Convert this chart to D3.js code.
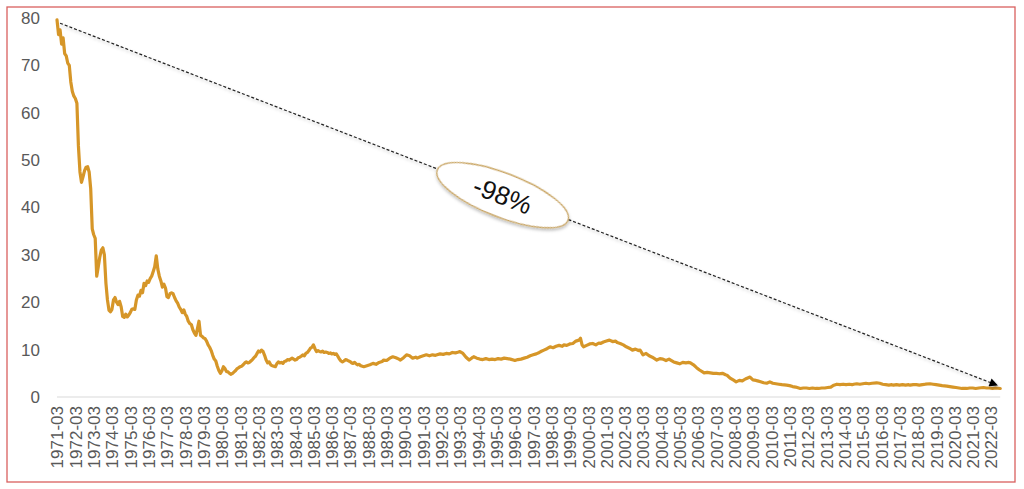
<!DOCTYPE html>
<html><head><meta charset="utf-8">
<script src="https://cdn.jsdelivr.net/npm/d3@7"></script>
<style>body{margin:0;background:#fff}</style>
</head><body><svg id="c" width="1024" height="489"></svg>
<script>
const dates = [
"1971-03","1971-04","1971-05","1971-06","1971-07","1971-08","1971-09","1971-10","1971-11","1971-12",
"1972-01","1972-02","1972-03","1972-04","1972-05","1972-06","1972-07","1972-08","1972-09","1972-10","1972-11","1972-12",
"1973-01","1973-02","1973-03","1973-04","1973-05","1973-06","1973-07","1973-08","1973-09","1973-10","1973-11","1973-12",
"1974-01","1974-02","1974-03","1974-04","1974-05","1974-06","1974-07","1974-08","1974-09","1974-10","1974-11","1974-12",
"1975-01","1975-02","1975-03","1975-04","1975-05","1975-06","1975-07","1975-08","1975-09","1975-10","1975-11","1975-12",
"1976-01","1976-02","1976-03","1976-04","1976-05","1976-06","1976-07","1976-08","1976-09","1976-10","1976-11","1976-12",
"1977-01","1977-02","1977-03","1977-04","1977-05","1977-06","1977-07","1977-08","1977-09","1977-10","1977-11","1977-12",
"1978-01","1978-02","1978-03","1978-04","1978-05","1978-06","1978-07","1978-08","1978-09","1978-10","1978-11","1978-12",
"1979-01","1979-02","1979-03","1979-04","1979-05","1979-06","1979-07","1979-08","1979-09","1979-10","1979-11","1979-12",
"1980-01","1980-02","1980-03","1980-04","1980-05","1980-06","1980-07","1980-08","1980-09","1980-10","1980-11","1980-12",
"1981-01","1981-02","1981-03","1981-04","1981-05","1981-06","1981-07","1981-08","1981-09","1981-10","1981-11","1981-12",
"1982-01","1982-02","1982-03","1982-04","1982-05","1982-06","1982-07","1982-08","1982-09","1982-10","1982-11","1982-12",
"1983-01","1983-02","1983-03","1983-04","1983-05","1983-06","1983-07","1983-08","1983-09","1983-10","1983-11","1983-12",
"1984-01","1984-02","1984-03","1984-04","1984-05","1984-06","1984-07","1984-08","1984-09","1984-10","1984-11","1984-12",
"1985-01","1985-02","1985-03","1985-04","1985-05","1985-06","1985-07","1985-08","1985-09","1985-10","1985-11","1985-12",
"1986-01","1986-02","1986-03","1986-04","1986-05","1986-06","1986-07","1986-08","1986-09","1986-10","1986-11","1986-12",
"1987-01","1987-02","1987-03","1987-04","1987-05","1987-06","1987-07","1987-08","1987-09","1987-10","1987-11","1987-12",
"1988-02","1988-04","1988-06","1988-08","1988-10","1988-12",
"1989-01","1989-03","1989-05","1989-07","1989-09","1989-11","1989-12",
"1990-02","1990-04","1990-06","1990-08","1990-10","1990-11",
"1991-01","1991-03","1991-05","1991-07","1991-09","1991-11","1991-12",
"1992-02","1992-04","1992-06","1992-08","1992-10","1992-12",
"1993-02","1993-03","1993-05","1993-07","1993-09","1993-11","1993-12",
"1994-02","1994-04","1994-06","1994-08","1994-10","1994-12",
"1995-02","1995-04","1995-06","1995-08","1995-10","1995-12",
"1996-02","1996-03","1996-05","1996-07","1996-09","1996-11",
"1997-01","1997-03","1997-05","1997-07","1997-08","1997-10","1997-12",
"1998-02","1998-04","1998-06","1998-08","1998-10","1998-11",
"1999-01","1999-03","1999-05","1999-07","1999-09","1999-10","1999-11","1999-12",
"2000-02","2000-04","2000-06","2000-08","2000-10","2000-11",
"2001-01","2001-03","2001-05","2001-07","2001-09","2001-10","2001-12",
"2002-02","2002-04","2002-06","2002-08","2002-10","2002-12",
"2003-01","2003-03","2003-05","2003-07","2003-09","2003-11","2003-12",
"2004-02","2004-04","2004-06","2004-08","2004-09","2004-11",
"2005-01","2005-03","2005-05","2005-07","2005-09","2005-10","2005-12",
"2006-02","2006-04","2006-06","2006-07","2006-09","2006-11",
"2007-01","2007-03","2007-05","2007-07","2007-09","2007-10","2007-12",
"2008-02","2008-04","2008-06","2008-08","2008-10",
"2009-01","2009-03","2009-05","2009-06","2009-08","2009-10","2009-12",
"2010-02","2010-04","2010-06","2010-08","2010-10",
"2011-01","2011-03","2011-05","2011-07","2011-09","2011-10","2011-12",
"2012-02","2012-04","2012-06","2012-08","2012-10","2012-12",
"2013-02","2013-04","2013-06","2013-08","2013-10","2013-12",
"2014-02","2014-04","2014-06","2014-08","2014-09","2014-11",
"2015-01","2015-03","2015-05","2015-07","2015-09","2015-12",
"2016-02","2016-04","2016-06","2016-08","2016-10","2016-11",
"2017-01","2017-03","2017-05","2017-07","2017-09","2017-10","2017-12",
"2018-02","2018-04","2018-06","2018-08","2018-11",
"2019-01","2019-03","2019-05","2019-07","2019-10","2019-12",
"2020-02","2020-04","2020-06","2020-08","2020-11",
"2021-01","2021-03","2021-05","2021-07","2021-10","2021-12",
"2022-02","2022-04","2022-06","2022-09"
];
const values = [
79.6,76.5,77.5,74.5,75.8,72.5,72.0,70.5,70.0,66.5,
64.5,63.5,63.0,62.0,53.0,47.5,45.3,46.5,47.8,48.5,48.6,47.5,
44.0,35.5,34.3,33.5,25.5,27.5,29.5,31.0,31.5,30.0,24.0,20.5,
18.3,18.0,18.5,20.5,21.0,20.0,19.5,20.2,19.0,17.0,16.8,17.5,
16.9,17.3,17.8,18.5,18.6,18.5,20.5,21.5,21.3,22.5,22.0,24.0,
23.5,24.5,24.2,25.0,25.5,26.5,27.5,29.8,27.0,25.5,24.5,23.2,
23.8,23.0,21.2,21.0,21.8,22.0,21.8,21.0,20.3,19.8,19.0,18.5,
17.8,18.4,17.5,17.0,16.0,15.5,15.3,14.2,13.5,13.0,14.5,16.0,
13.0,12.8,12.5,12.3,11.8,11.0,10.5,9.8,8.8,8.0,7.6,6.5,
5.6,5.0,5.5,6.4,6.0,5.4,5.3,5.0,4.8,5.0,5.3,5.6,
6.0,6.2,6.4,6.5,6.8,7.2,7.4,7.2,7.3,7.6,7.9,8.3,
8.6,9.2,9.7,9.5,9.9,9.6,8.8,7.8,7.2,7.4,6.8,6.6,
6.5,6.4,7.0,7.4,7.2,7.3,7.1,7.5,7.6,7.9,7.8,8.0,
8.2,8.0,7.8,7.9,8.3,8.4,8.6,8.9,8.7,9.2,9.4,9.8,
10.3,10.5,11.0,10.2,9.6,9.8,9.6,9.5,9.7,9.4,9.5,9.4,
9.2,9.3,9.1,9.2,9.0,9.1,8.6,8.0,7.6,7.4,7.6,7.9,
7.8,7.6,7.5,7.2,7.1,7.3,7.0,6.8,6.9,6.6,6.5,6.4,
6.6,6.8,7.1,6.9,7.3,7.5,
7.8,7.7,8.2,8.5,8.3,8.0,7.8,
8.3,8.9,8.7,8.2,8.4,8.2,
8.5,8.7,8.9,8.7,8.9,8.8,8.9,
9.1,9.0,9.2,9.1,9.4,9.3,
9.5,9.6,9.2,8.4,7.8,8.3,8.5,
8.2,8.0,7.9,8.1,7.9,8.0,
7.9,8.1,8.0,8.2,8.1,8.0,
7.8,7.7,7.9,8.0,8.2,8.4,
8.7,8.9,9.1,9.4,9.6,9.9,10.2,
10.6,10.4,10.7,10.9,10.7,11.0,
10.9,11.2,11.3,11.8,12.0,12.4,11.0,10.6,
10.9,11.2,11.3,11.0,11.4,11.3,
11.6,11.8,12.0,11.7,11.8,11.5,11.3,
11.0,10.6,10.3,9.9,10.1,9.8,
9.9,8.9,9.2,8.7,8.4,8.0,7.8,
8.1,8.0,7.7,8.0,7.8,7.4,
7.2,7.0,7.3,7.2,7.3,7.2,6.8,
6.2,5.7,5.3,5.1,5.2,5.1,
5.0,5.0,4.9,5.0,4.7,4.6,4.0,
3.6,3.2,3.5,3.4,3.8,
4.2,3.6,3.5,3.4,3.2,3.0,2.9,
3.2,2.9,2.8,2.7,2.6,
2.5,2.4,2.2,2.1,1.9,1.8,1.9,
1.9,1.8,1.9,1.8,1.8,1.9,
1.9,2.0,2.1,2.5,2.7,2.6,
2.7,2.6,2.7,2.6,2.7,2.8,
2.7,2.8,2.9,2.8,2.9,3.0,
2.9,2.7,2.6,2.5,2.6,2.5,
2.6,2.5,2.6,2.5,2.6,2.5,2.6,
2.6,2.5,2.6,2.7,2.8,
2.7,2.6,2.5,2.4,2.3,2.2,
2.1,2.0,1.9,1.8,1.8,
1.9,1.9,1.8,1.9,2.0,1.9,
1.9,1.8,1.9,1.8
];
const yTicks = [0,10,20,30,40,50,60,70,80];
const xTickLabels = [
"1971-03","1972-03","1973-03","1974-03","1975-03","1976-03","1977-03","1978-03","1979-03","1980-03",
"1981-03","1982-03","1983-03","1984-03","1985-03","1986-03","1987-03","1988-03","1989-03","1990-03",
"1991-03","1992-03","1993-03","1994-03","1995-03","1996-03","1997-03","1998-03","1999-03","2000-03",
"2001-03","2002-03","2003-03","2004-03","2005-03","2006-03","2007-03","2008-03","2009-03","2010-03",
"2011-03","2012-03","2013-03","2014-03","2015-03","2016-03","2017-03","2018-03","2019-03","2020-03",
"2021-03","2022-03"
];
const annotationLabel = "-98%";
const arrowFrom = {date:"1971-05", value:78.9};
const arrowTo = {date:"2022-07", value:2.5};
const labelAt = {date:"1995-07", value:42.6};

const parse = d3.timeParse("%Y-%m");
const fmt = d3.timeFormat("%Y-%m");
const svg = d3.select("#c");
const x = d3.scaleTime().domain([parse("1971-03"), parse("2022-03")]).range([57, 991]);
const y = d3.scaleLinear().domain([0, 80]).range([397, 18]);
const font = "'Liberation Sans', Arial, sans-serif";

const defs = svg.append("defs");
const sh = defs.append("filter").attr("id","sh").attr("x","-20%").attr("y","-20%").attr("width","140%").attr("height","160%");
sh.append("feDropShadow").attr("dx",1).attr("dy",2).attr("stdDeviation",1.5).attr("flood-color","#000").attr("flood-opacity",0.25);
defs.append("marker").attr("id","ah").attr("viewBox","0 0 10 10").attr("refX",9).attr("refY",5)
  .attr("markerWidth",8).attr("markerHeight",7).attr("orient","auto").attr("markerUnits","strokeWidth")
  .append("path").attr("d","M0,0 L10,5 L0,10 z").attr("fill","#000");

// border
svg.append("rect").attr("x",7).attr("y",7).attr("width",1008).attr("height",475)
  .attr("fill","none").attr("stroke","#d9605f").attr("stroke-width",1.3);

// y axis
const ya = svg.append("g").attr("transform","translate(57,0)")
  .call(d3.axisLeft(y).tickValues(yTicks).tickSize(0).tickPadding(17));
ya.select(".domain").remove();
ya.selectAll("text").attr("fill","#595959").style("font-family",font).style("font-size","17px");

// x axis
const data = dates.map((d,i)=>({date:parse(d), v:values[i]}));
const xa = svg.append("g").attr("transform","translate(0,397)")
  .call(d3.axisBottom(x).tickValues(xTickLabels.map(parse)).tickFormat(fmt).tickSize(0));
xa.select(".domain").remove();
xa.append("line").attr("x1",x.range()[0]).attr("x2",x(data[data.length-1].date)).attr("stroke","#d9d9d9").attr("stroke-width",1);
xa.selectAll("text").attr("transform","rotate(-90)").attr("x",-9).attr("y",0).attr("dy","0.35em")
  .style("text-anchor","end").attr("fill","#595959").style("font-family",font).style("font-size","17px");

// line
svg.append("path").datum(data)
  .attr("d", d3.line().x(d=>x(d.date)).y(d=>y(d.v)))
  .attr("fill","none").attr("stroke","#D69628").attr("stroke-width",3.2)
  .attr("stroke-linejoin","round").attr("stroke-linecap","round");

// arrow annotation
const ax1 = x(parse(arrowFrom.date)), ay1 = y(arrowFrom.value);
const ax2 = x(parse(arrowTo.date)), ay2 = y(arrowTo.value);
svg.append("line").attr("x1",ax1).attr("y1",ay1).attr("x2",ax2).attr("y2",ay2)
  .attr("stroke","#222").attr("stroke-width",1.2).attr("stroke-dasharray","3,2")
  .attr("marker-end","url(#ah)").attr("filter","url(#sh)");
const ang = Math.atan2(ay2-ay1, ax2-ax1)*180/Math.PI;
const lx = x(parse(labelAt.date)), ly = y(labelAt.value);
const lg = svg.append("g").attr("transform",`translate(${lx},${ly}) rotate(${ang})`);
lg.append("ellipse").attr("rx",70).attr("ry",22).attr("fill","#fff")
  .attr("stroke","#c9a560").attr("stroke-width",1.3).attr("filter","url(#sh)");
lg.append("text").text(annotationLabel).attr("text-anchor","middle").attr("dy","0.36em")
  .style("font-family",font).style("font-size","26px").attr("fill","#111");
</script></body></html>
